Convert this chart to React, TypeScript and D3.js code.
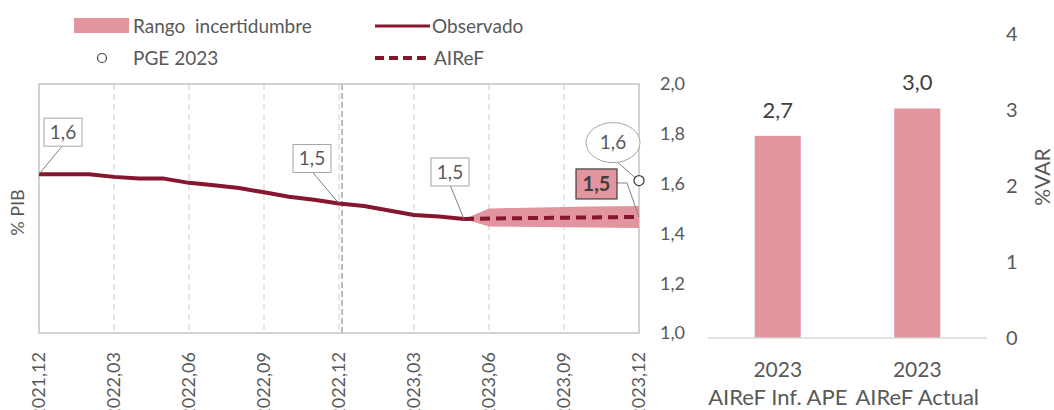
import React from "react";
import * as d3 from "d3";

// monthly series, 2021,12 (index 0) .. 2023,12 (index 24)
const observed = [1.638, 1.638, 1.638, 1.627, 1.620, 1.620, 1.603, 1.593, 1.582, 1.565, 1.547, 1.535, 1.520, 1.510, 1.492, 1.474, 1.468, 1.458];
const forecastStart = 17;
const forecast = [1.458, 1.460, 1.461, 1.462, 1.463, 1.464, 1.465, 1.466];
const bandHigh = [1.458, 1.500, 1.502, 1.504, 1.506, 1.508, 1.509, 1.510];
const bandLow = [1.458, 1.428, 1.427, 1.426, 1.425, 1.424, 1.423, 1.422];
const pgeValue = 1.612;
const tickLabels = ["2021,12", "2022,03", "2022,06", "2022,09", "2022,12", "2023,03", "2023,06", "2023,09", "2023,12"];
const yTicks = [1.0, 1.2, 1.4, 1.6, 1.8, 2.0];

const barYears = ["2023", "2023"];
const barNames = ["AIReF Inf. APE", "AIReF Actual"];
const barValues = [2.66, 3.02];
const barTicks = [0, 1, 2, 3, 4];

const PINK = "#e2959f";
const WINE = "#86152f";
const GREY = "#595959";
const FONT = "Lato, 'Open Sans', sans-serif";

const locale = d3.formatLocale({ decimal: ",", thousands: ".", grouping: [3], currency: ["", "€"] });
const fmt1 = locale.format(".1f");

export default function App() {
  const x = d3.scaleLinear().domain([0, 24]).range([39, 639]);
  const y = d3.scaleLinear().domain([1, 2]).range([333, 84]);
  const xBar = d3.scaleBand<string>().domain(barNames).range([708, 987]).paddingInner(0.67).paddingOuter(0.335);
  const yBar = d3.scaleLinear().domain([0, 4]).range([338, 34]);

  const line = d3.line<number>().x((d, i) => x(i)).y((d) => y(d));
  const fLine = d3.line<number>().x((d, i) => x(i + forecastStart)).y((d) => y(d));
  const band = d3
    .area<number>()
    .x((d, i) => x(i + forecastStart))
    .y0((d, i) => y(bandLow[i]))
    .y1((d) => y(d));

  const lastIdx = forecastStart + forecast.length - 1;
  const lastVal = forecast[forecast.length - 1];

  // boxed callouts: [index, value, dx, dy] offsets of box centre from the point
  const callouts: [number, number, number, number][] = [
    [0, observed[0], 24, -42],
    [12, observed[12], -27, -45],
    [forecastStart, observed[forecastStart], -14, -47],
  ];

  return (
    <svg width={1054} height={410} style={{ position: "absolute", left: 0, top: 0, fontFamily: FONT }}>
      {/* legend */}
      <rect x={74} y={18} width={55} height={15} fill={PINK} />
      <text x={133} y={26} dy="0.35em" fontSize={19} fill={GREY} style={{ whiteSpace: "pre" }}>
        {"Rango  incertidumbre"}
      </text>
      <line x1={375} x2={430} y1={26} y2={26} stroke={WINE} strokeWidth={3} />
      <text x={432} y={26} dy="0.35em" fontSize={19} fill={GREY}>Observado</text>
      <circle cx={102} cy={58} r={4.5} fill="#fff" stroke="#404040" strokeWidth={1.2} />
      <text x={133} y={58} dy="0.35em" fontSize={19} fill={GREY}>PGE 2023</text>
      <line x1={375} x2={428} y1={58} y2={58} stroke={WINE} strokeWidth={4} strokeDasharray="9,5" />
      <text x={434} y={58} dy="0.35em" fontSize={19} fill={GREY}>AIReF</text>

      {/* grid */}
      {tickLabels.map((t, i) =>
        i > 0 && i < tickLabels.length - 1 ? (
          <line key={t} x1={x(i * 3)} x2={x(i * 3)} y1={y(2)} y2={y(1)} stroke="#d6d6d6" strokeWidth={1.2} strokeDasharray="6,4" />
        ) : null
      )}
      <line x1={x(12) + 3} x2={x(12) + 3} y1={y(2)} y2={y(1)} stroke="#a6a6a6" strokeWidth={1.5} strokeDasharray="6,3" />
      <rect x={x(0)} y={y(2)} width={x(24) - x(0)} height={y(1) - y(2)} fill="none" stroke="#c4c4c4" strokeWidth={1.5} />

      {/* band and lines */}
      <path d={band(bandHigh) || ""} fill={PINK} />
      <path d={line(observed) || ""} fill="none" stroke={WINE} strokeWidth={4} strokeLinejoin="round" />
      <path d={fLine(forecast) || ""} fill="none" stroke={WINE} strokeWidth={4} strokeDasharray="10,6" />

      {/* callouts */}
      {callouts.map(([i, v, dx, dy]) => {
        const px = x(i), py = y(v);
        const cx = px + dx, cy = py + dy;
        return (
          <g key={i}>
            <line x1={cx} y1={cy + 13} x2={px} y2={py} stroke="#808080" strokeWidth={1} />
            <rect x={cx - 19} y={cy - 14} width={38} height={28} fill="#fff" stroke="#a6a6a6" strokeWidth={1} />
            <text x={cx} y={cy} dy="0.35em" textAnchor="middle" fontSize={19} fill={GREY}>{fmt1(v)}</text>
          </g>
        );
      })}

      {/* AIReF end-of-year callout */}
      <polyline
        points={`${x(lastIdx) - 22},${y(lastVal) - 34} ${x(lastIdx) - 12},${y(lastVal) - 34} ${x(lastIdx)},${y(lastVal)}`}
        fill="none" stroke="#808080" strokeWidth={1}
      />
      <rect x={x(lastIdx) - 63} y={y(lastVal) - 48} width={41} height={30} fill={PINK} stroke="#404040" strokeWidth={1.2} />
      <text x={x(lastIdx) - 42.5} y={y(lastVal) - 33} dy="0.35em" textAnchor="middle" fontSize={20} fontWeight="bold" fill="#404040">
        {fmt1(lastVal)}
      </text>

      {/* PGE point */}
      <line x1={x(24) - 22} y1={y(pgeValue) - 19} x2={x(24) - 4} y2={y(pgeValue) - 3} stroke="#808080" strokeWidth={1} />
      <ellipse cx={x(24) - 26} cy={y(pgeValue) - 38} rx={27} ry={20} fill="#fff" stroke="#a6a6a6" strokeWidth={1} />
      <text x={x(24) - 26} y={y(pgeValue) - 38} dy="0.35em" textAnchor="middle" fontSize={19} fill={GREY}>{fmt1(pgeValue)}</text>
      <circle cx={x(24)} cy={y(pgeValue)} r={5} fill="#fff" stroke="#404040" strokeWidth={1.3} />

      {/* left axis labels */}
      {tickLabels.map((t, i) => (
        <text key={t} transform={`translate(${x(i * 3)},352) rotate(-90)`} dy="0.35em" textAnchor="end" fontSize={18} fill={GREY}>
          {t}
        </text>
      ))}
      {yTicks.map((t) => (
        <text key={t} x={660} y={y(t)} dy="0.35em" fontSize={18} fill={GREY}>{fmt1(t)}</text>
      ))}
      <text transform={`translate(18,${(y(1) + y(2)) / 2 + 4}) rotate(-90)`} dy="0.35em" textAnchor="middle" fontSize={18} fill={GREY}>
        % PIB
      </text>

      {/* bar chart */}
      {barNames.map((n, i) => (
        <g key={n}>
          <rect x={xBar(n)} y={yBar(barValues[i])} width={xBar.bandwidth()} height={yBar(0) - yBar(barValues[i])} fill={PINK} />
          <text x={(xBar(n) || 0) + xBar.bandwidth() / 2} y={yBar(barValues[i]) - 26} dy="0.35em" textAnchor="middle" fontSize={22} fill="#404040">
            {fmt1(barValues[i])}
          </text>
          <text x={(xBar(n) || 0) + xBar.bandwidth() / 2} y={370} dy="0.35em" textAnchor="middle" fontSize={21} fill={GREY}>
            {barYears[i]}
          </text>
          <text x={(xBar(n) || 0) + xBar.bandwidth() / 2} y={397} dy="0.35em" textAnchor="middle" fontSize={22} fill={GREY}>
            {n}
          </text>
        </g>
      ))}
      <line x1={708} x2={987} y1={yBar(0)} y2={yBar(0)} stroke="#d9d9d9" strokeWidth={1.5} />
      {barTicks.map((t) => (
        <text key={t} x={1006} y={yBar(t)} dy="0.35em" fontSize={20} fill={GREY}>{t}</text>
      ))}
      <text transform={`translate(1043,177) rotate(-90)`} dy="0.35em" textAnchor="middle" fontSize={21} fill={GREY}>%VAR</text>
    </svg>
  );
}
